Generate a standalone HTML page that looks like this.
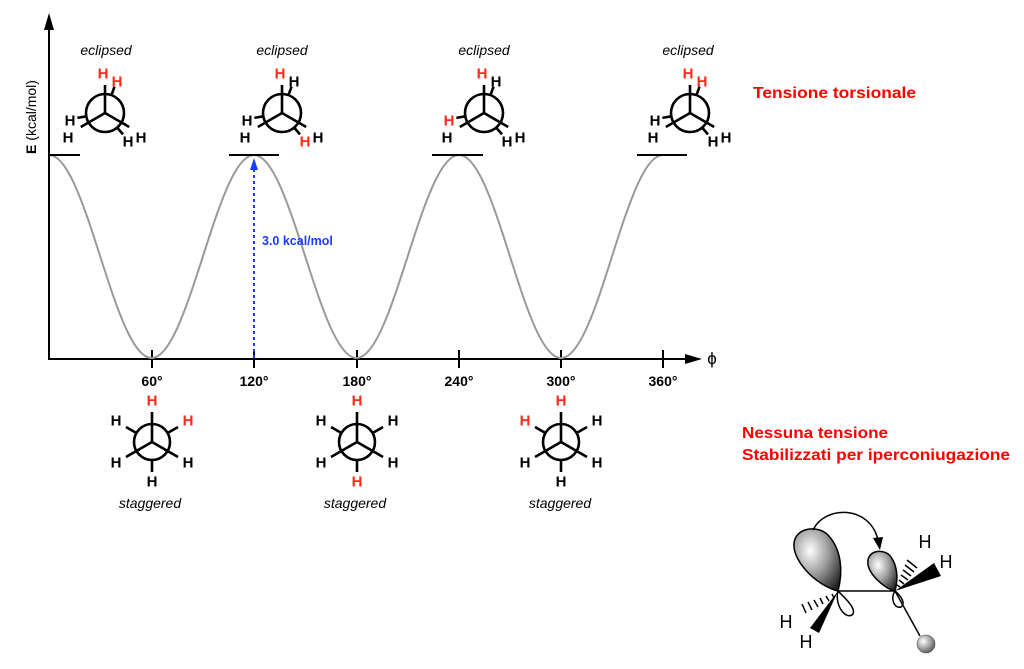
<!DOCTYPE html>
<html><head><meta charset="utf-8"><style>
html,body{margin:0;padding:0;background:#fff;}
svg{display:block;}
text{font-family:"Liberation Sans",Arial,sans-serif;}
.H{font-size:15px;font-weight:bold;text-anchor:middle;dominant-baseline:central;}
.r{fill:#ff2a1a;}
.it{font-size:14px;font-style:italic;text-anchor:middle;}
.tk{font-size:14px;font-weight:bold;text-anchor:middle;}
.red{fill:#ff0000;font-weight:bold;font-size:16px;}
</style></head><body>
<svg width="1024" height="669" viewBox="0 0 1024 669" xmlns="http://www.w3.org/2000/svg">
<defs>
<g id="ecl" stroke="#000" stroke-width="2.6" fill="none">
<circle r="19" cx="0" cy="0"/>
<line x1="0" y1="0" x2="0" y2="-28"/>
<line x1="0" y1="0" x2="-24.2" y2="14"/>
<line x1="0" y1="0" x2="24.2" y2="14"/>
<line x1="6.5" y1="-17.9" x2="9.5" y2="-26.3"/>
<line x1="-18.7" y1="3.3" x2="-27.6" y2="4.9"/>
<line x1="12.2" y1="14.6" x2="18" y2="21.4"/>
</g>
<g id="stg" stroke="#000" stroke-width="2.6" fill="none">
<circle r="18" cx="0" cy="0"/>
<line x1="0" y1="0" x2="0" y2="-30"/>
<line x1="0" y1="0" x2="-26" y2="15"/>
<line x1="0" y1="0" x2="26" y2="15"/>
<line x1="15.6" y1="-9" x2="26" y2="-15"/>
<line x1="-15.6" y1="-9" x2="-26" y2="-15"/>
<line x1="0" y1="18" x2="0" y2="30"/>
</g>
<radialGradient id="lobe" cx="0.35" cy="0.35" r="0.8">
<stop offset="0" stop-color="#fff"/><stop offset="0.5" stop-color="#999"/><stop offset="1" stop-color="#222"/>
</radialGradient>
<radialGradient id="ball" cx="0.35" cy="0.35" r="0.8">
<stop offset="0" stop-color="#fff"/><stop offset="1" stop-color="#444"/>
</radialGradient>
</defs>

<!-- axes -->
<line x1="49" y1="359" x2="49" y2="22" stroke="#000" stroke-width="2"/>
<polygon points="49,13 44,30 54,30" fill="#000"/>
<line x1="48" y1="359" x2="690" y2="359" stroke="#000" stroke-width="2"/>
<polygon points="702,359 685,354 685,364" fill="#000"/>
<text x="712" y="364" style="font-size:17px" text-anchor="middle">ϕ</text>
<text transform="translate(36,117) rotate(-90)" style="font-size:14px" text-anchor="middle"><tspan font-weight="bold">E</tspan> (kcal/mol)</text>
<g stroke="#000" stroke-width="2">
<line x1="152" y1="350" x2="152" y2="368"/><line x1="254" y1="350" x2="254" y2="368"/>
<line x1="357" y1="350" x2="357" y2="368"/><line x1="459" y1="350" x2="459" y2="368"/>
<line x1="561" y1="350" x2="561" y2="368"/><line x1="663" y1="350" x2="663" y2="368"/>
</g>
<text class="tk" x="152" y="386">60°</text><text class="tk" x="254" y="386">120°</text>
<text class="tk" x="357" y="386">180°</text><text class="tk" x="459" y="386">240°</text>
<text class="tk" x="561" y="386">300°</text><text class="tk" x="663" y="386">360°</text>

<!-- curve -->
<path d="M49,155 C86.3,155 114.2,358 151.5,358 S217,155 254,155 S319.5,358 356.5,358 S421.7,155 459,155 S523.7,358 561,358 S625.7,155 663,155" fill="none" stroke="#999" stroke-width="2"/>
<g stroke="#000" stroke-width="2">
<line x1="49" y1="155" x2="80" y2="155"/><line x1="229" y1="155" x2="279" y2="155"/>
<line x1="432" y1="155" x2="483" y2="155"/><line x1="637" y1="155" x2="687" y2="155"/>
</g>
<!-- blue arrow -->
<line x1="254" y1="358" x2="254" y2="168" stroke="#1a3cff" stroke-width="2" stroke-dasharray="3,3"/>
<polygon points="254,158 250,170 258,170" fill="#1a3cff"/>
<text x="262" y="245" style="font-size:12.5px;font-weight:bold" fill="#1a3cff">3.0 kcal/mol</text>

<!-- eclipsed -->
<text class="it" x="106" y="55">eclipsed</text>
<text class="it" x="282" y="55">eclipsed</text>
<text class="it" x="484" y="55">eclipsed</text>
<text class="it" x="688" y="55">eclipsed</text>

<g transform="translate(105,113)"><use href="#ecl"/>
<text class="H r" x="-2" y="-39">H</text><text class="H r" x="12" y="-31">H</text>
<text class="H" x="-35" y="8">H</text><text class="H" x="-37" y="25">H</text>
<text class="H" x="23" y="29">H</text><text class="H" x="36" y="25">H</text></g>
<g transform="translate(282,113)"><use href="#ecl"/>
<text class="H r" x="-2" y="-39">H</text><text class="H" x="12" y="-31">H</text>
<text class="H" x="-35" y="8">H</text><text class="H" x="-37" y="25">H</text>
<text class="H r" x="23" y="29">H</text><text class="H" x="36" y="25">H</text></g>
<g transform="translate(484,113)"><use href="#ecl"/>
<text class="H r" x="-2" y="-39">H</text><text class="H" x="12" y="-31">H</text>
<text class="H r" x="-35" y="8">H</text><text class="H" x="-37" y="25">H</text>
<text class="H" x="23" y="29">H</text><text class="H" x="36" y="25">H</text></g>
<g transform="translate(690,113)"><use href="#ecl"/>
<text class="H r" x="-2" y="-39">H</text><text class="H r" x="12" y="-31">H</text>
<text class="H" x="-35" y="8">H</text><text class="H" x="-37" y="25">H</text>
<text class="H" x="23" y="29">H</text><text class="H" x="36" y="25">H</text></g>

<!-- staggered -->
<g transform="translate(152,442)"><use href="#stg"/>
<text class="H r" x="0" y="-41">H</text><text class="H r" x="36" y="-21">H</text>
<text class="H" x="-36" y="-21">H</text><text class="H" x="-36" y="21">H</text>
<text class="H" x="36" y="21">H</text><text class="H" x="0" y="40">H</text></g>
<g transform="translate(357,442)"><use href="#stg"/>
<text class="H r" x="0" y="-41">H</text><text class="H" x="36" y="-21">H</text>
<text class="H" x="-36" y="-21">H</text><text class="H" x="-36" y="21">H</text>
<text class="H" x="36" y="21">H</text><text class="H r" x="0" y="40">H</text></g>
<g transform="translate(561,442)"><use href="#stg"/>
<text class="H r" x="0" y="-41">H</text><text class="H" x="36" y="-21">H</text>
<text class="H r" x="-36" y="-21">H</text><text class="H" x="-36" y="21">H</text>
<text class="H" x="36" y="21">H</text><text class="H" x="0" y="40">H</text></g>
<text class="it" x="150" y="508">staggered</text>
<text class="it" x="355" y="508">staggered</text>
<text class="it" x="560" y="508">staggered</text>

<!-- red texts -->
<text class="red" x="753" y="98" textLength="163" lengthAdjust="spacingAndGlyphs">Tensione torsionale</text>
<text class="red" x="742" y="438" textLength="146" lengthAdjust="spacingAndGlyphs">Nessuna tensione</text>
<text class="red" x="742" y="460" textLength="268" lengthAdjust="spacingAndGlyphs">Stabilizzati per iperconiugazione</text>

<!-- orbital picture -->
<g stroke="#000" stroke-width="1.5">
<path d="M838,591 C815,585 792,560 794,543 C796,527 818,525 828,535 C842,550 843,572 838,591 Z" fill="url(#lobe)"/>
<path d="M838,591 C845,598 856,608 853,614 C847,621 834,606 838,591 Z" fill="#fff"/>
<line x1="838" y1="591" x2="895" y2="591"/>
<path d="M895,591 C883,588 866,572 868,560 C870,549 886,549 891,557 C898,567 898,580 895,591 Z" fill="url(#lobe)"/>
<path d="M895,591 C901,596 906,603 901,607 C894,609 890,598 895,591 Z" fill="#fff"/>
<line x1="895" y1="591" x2="920" y2="636"/>
</g>
<circle cx="926" cy="644" r="9" fill="url(#ball)" stroke="#333" stroke-width="0.5"/>
<polygon points="895,591 934,563 941,576" fill="#000"/>
<g stroke="#000" stroke-width="1.5">
<line x1="897" y1="585" x2="900" y2="587"/><line x1="899" y1="580" x2="904" y2="584"/>
<line x1="901" y1="575" x2="908" y2="580"/><line x1="903" y1="570" x2="911" y2="576"/>
<line x1="905" y1="565" x2="914" y2="572"/><line x1="907" y1="560" x2="917" y2="568"/>
</g>
<polygon points="838,591 810,628 819,633" fill="#000"/>
<g stroke="#000" stroke-width="1.5">
<line x1="832" y1="594" x2="834" y2="598"/><line x1="826" y1="596" x2="829" y2="601"/>
<line x1="820" y1="598" x2="823" y2="604"/><line x1="814" y1="600" x2="818" y2="607"/>
<line x1="808" y1="602" x2="812" y2="610"/><line x1="802" y1="604" x2="806" y2="613"/>
</g>
<path d="M813,530 C825,505 870,505 878,540" fill="none" stroke="#000" stroke-width="1.5"/>
<polygon points="880,550 873,538 883,537" fill="#000"/>
<text x="925" y="548" style="font-size:18px" text-anchor="middle">H</text>
<text x="946" y="568" style="font-size:18px" text-anchor="middle">H</text>
<text x="786" y="628" style="font-size:18px" text-anchor="middle">H</text>
<text x="806" y="648" style="font-size:18px" text-anchor="middle">H</text>
</svg>
</body></html>
